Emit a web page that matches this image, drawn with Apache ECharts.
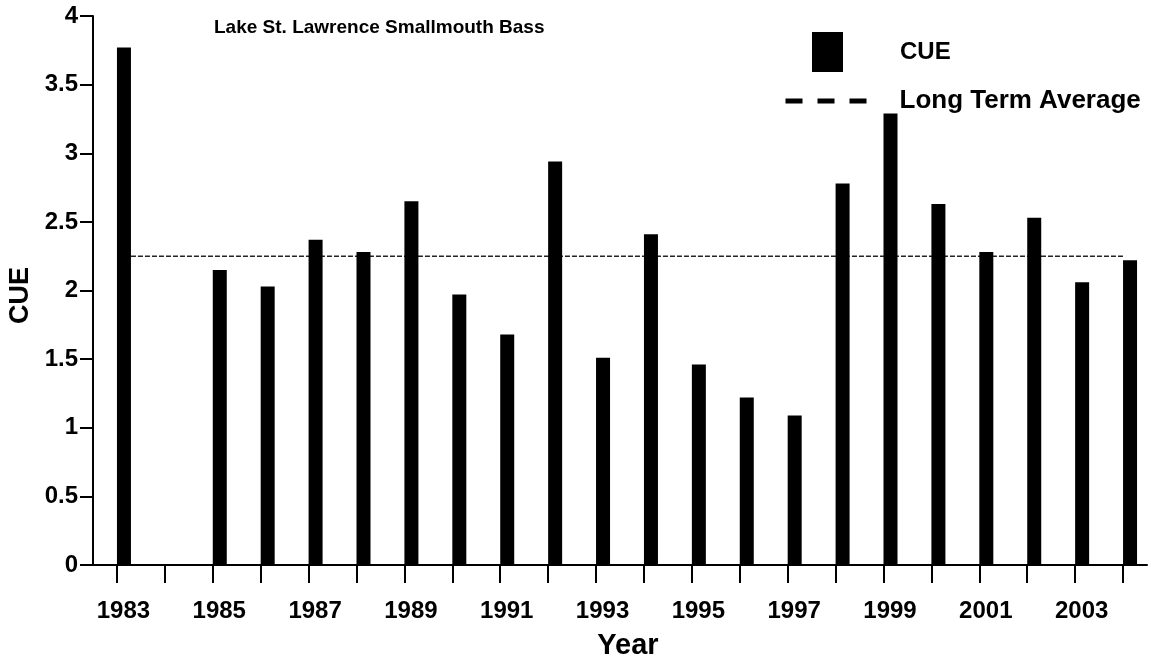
<!DOCTYPE html>
<html>
<head>
<meta charset="utf-8">
<script src="https://cdn.jsdelivr.net/npm/echarts@6/dist/echarts.min.js"></script>
<style>
  html, body { margin: 0; padding: 0; background: #fff; }
  #chart { width: 1158px; height: 664px; }
</style>
</head>
<body>
<div id="chart"></div>
<script>
// values (1984 has no sample)
const years = ['1983', '1984', '1985', '1986', '1987', '1988', '1989', '1990', '1991', '1992', '1993',
               '1994', '1995', '1996', '1997', '1998', '1999', '2000', '2001', '2002', '2003', '2004']
const cue = [3.77, null, 2.15, 2.03, 2.37, 2.28, 2.65, 1.97, 1.68, 2.94, 1.51,
             2.41, 1.46, 1.22, 1.09, 2.78, 3.29, 2.63, 2.28, 2.53, 2.06, 2.22]
const longTermAvg = [2.25, 2.25, 2.25, 2.25, 2.25, 2.25, 2.25, 2.25, 2.25, 2.25, 2.25,
                     2.25, 2.25, 2.25, 2.25, 2.25, 2.25, 2.25, 2.25, 2.25, 2.25, 2.25]
// empty slot so the real bar sits just right of each tick
const spacer = [null, null, null, null, null, null, null, null, null, null, null,
                null, null, null, null, null, null, null, null, null, null, null]

const font = 'Liberation Sans, Arial, sans-serif'
const chart = echarts.init(document.getElementById('chart'), null, { renderer: 'canvas' })

chart.setOption({
    backgroundColor: '#fff',
    animation: false,
    title: {
        text: 'Lake St. Lawrence Smallmouth Bass',
        left: 214,
        top: 18,
        padding: 0,
        textStyle: { fontFamily: font, fontSize: 19, fontWeight: 'bold', color: '#000' }
    },
    legend: [
        {
            data: [{ name: 'CUE', icon: 'rect' }],
            left: 812,
            top: 32,
            padding: 0,
            itemWidth: 31,
            itemHeight: 40,
            itemStyle: { color: '#000' },
            textStyle: { fontFamily: font, fontSize: 24, fontWeight: 'bold', color: '#000', padding: [2, 0, 0, 52] }
        },
        {
            data: ['Long Term Average'],
            left: 783,
            top: 88,
            padding: 0,
            itemWidth: 92,
            itemHeight: 14,
            itemStyle: { opacity: 0 },
            lineStyle: { color: '#000', width: 5, type: [17, 15] },
            textStyle: { fontFamily: font, fontSize: 26, fontWeight: 'bold', color: '#000', padding: [0, 0, 0, 17] }
        }
    ],
    grid: { left: 93, right: 11, top: 16, bottom: 99, containLabel: false, outerBoundsMode: 'none' },
    xAxis: {
        type: 'category',
        data: years,
        boundaryGap: true,
        name: 'Year',
        nameLocation: 'middle',
        nameGap: 66,
        nameTextStyle: { fontFamily: font, fontSize: 29, fontWeight: 'bold', color: '#000', padding: [0, 0, 0, 16] },
        axisLine: { lineStyle: { color: '#000', width: 2 } },
        axisTick: { show: true, alignWithLabel: true, interval: 0, length: 18, lineStyle: { color: '#000', width: 2 } },
        axisLabel: {
            interval: 1,
            margin: 34,
            padding: [0, 0, 0, 13],
            fontFamily: font, fontSize: 24, fontWeight: 'bold', color: '#000'
        },
        splitLine: { show: false }
    },
    yAxis: {
        type: 'value',
        min: 0,
        max: 4,
        interval: 0.5,
        name: 'CUE',
        nameLocation: 'middle',
        nameGap: 57,
        nameRotate: 90,
        nameTextStyle: { fontFamily: font, fontSize: 27, fontWeight: 'bold', color: '#000', padding: [0, 10, 0, 0] },
        axisLine: { show: true, lineStyle: { color: '#000', width: 2 } },
        axisTick: { show: true, length: 13, lineStyle: { color: '#000', width: 2 } },
        axisLabel: { margin: 15, fontFamily: font, fontSize: 24, fontWeight: 'bold', color: '#000' },
        splitLine: { show: false }
    },
    series: [
        {
            name: 'spacer',
            type: 'bar',
            data: spacer,
            barWidth: 14,
            barGap: '0%',
            itemStyle: { color: 'transparent' },
            silent: true
        },
        {
            name: 'CUE',
            type: 'bar',
            data: cue,
            barWidth: 14,
            barGap: '0%',
            itemStyle: { color: '#000' }
        },
        {
            name: 'Long Term Average',
            type: 'line',
            data: longTermAvg,
            symbol: 'none',
            z: 1,
            itemStyle: { color: '#000' },
            lineStyle: { color: '#222', width: 1.5, type: [5, 2] }
        }
    ]
})
</script>
</body>
</html>
